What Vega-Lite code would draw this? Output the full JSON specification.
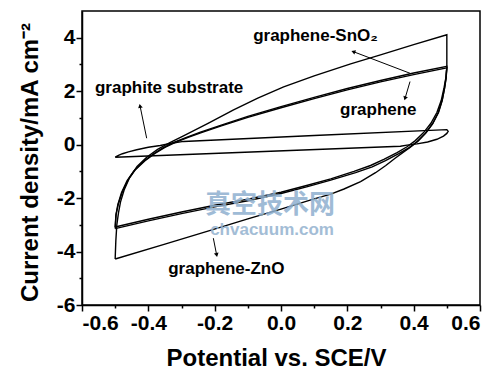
{
  "$schema": "https://vega.github.io/schema/vega-lite/v6.json",
  "width": 398,
  "height": 294,
  "autosize": "none",
  "padding": {"left": 82, "top": 11, "right": 20, "bottom": 70},
  "background": "white",
  "resolve": {"axis": {"x": "independent", "y": "independent"}},
  "config": {
    "view": {"stroke": "black", "strokeWidth": 1.5},
    "axis": {
      "domainColor": "black", "domainWidth": 1.5, "tickColor": "black", "tickWidth": 1.5,
      "labelColor": "black", "titleColor": "black", "labelFont": "Liberation Sans", "titleFont": "Liberation Sans",
      "labelFontWeight": "bold", "titleFontWeight": "bold", "grid": false
    }
  },
  "datasets": {
    "loops": [
      {"s":"graphene","i":0,"x":-0.5,"y":-3.08},{"s":"graphene","i":1,"x":-0.497,"y":-2.6},{"s":"graphene","i":2,"x":-0.49,"y":-2.2},{"s":"graphene","i":3,"x":-0.478,"y":-1.75},{"s":"graphene","i":4,"x":-0.46,"y":-1.3},{"s":"graphene","i":5,"x":-0.44,"y":-0.95},{"s":"graphene","i":6,"x":-0.41,"y":-0.6},{"s":"graphene","i":7,"x":-0.38,"y":-0.33},{"s":"graphene","i":8,"x":-0.35,"y":-0.1},{"s":"graphene","i":9,"x":-0.32,"y":0.08},{"s":"graphene","i":10,"x":-0.28,"y":0.27},{"s":"graphene","i":11,"x":-0.24,"y":0.45},{"s":"graphene","i":12,"x":-0.18,"y":0.7},{"s":"graphene","i":13,"x":-0.1,"y":1.02},{"s":"graphene","i":14,"x":0.0,"y":1.38},{"s":"graphene","i":15,"x":0.1,"y":1.72},{"s":"graphene","i":16,"x":0.2,"y":2.05},{"s":"graphene","i":17,"x":0.3,"y":2.35},{"s":"graphene","i":18,"x":0.4,"y":2.62},{"s":"graphene","i":19,"x":0.5,"y":2.87},{"s":"graphene","i":20,"x":0.497,"y":2.5},{"s":"graphene","i":21,"x":0.492,"y":2.15},{"s":"graphene","i":22,"x":0.483,"y":1.65},{"s":"graphene","i":23,"x":0.47,"y":1.2},{"s":"graphene","i":24,"x":0.452,"y":0.8},{"s":"graphene","i":25,"x":0.43,"y":0.45},{"s":"graphene","i":26,"x":0.405,"y":0.15},{"s":"graphene","i":27,"x":0.38,"y":-0.08},{"s":"graphene","i":28,"x":0.35,"y":-0.3},{"s":"graphene","i":29,"x":0.31,"y":-0.55},{"s":"graphene","i":30,"x":0.27,"y":-0.78},{"s":"graphene","i":31,"x":0.22,"y":-1.0},{"s":"graphene","i":32,"x":0.15,"y":-1.28},{"s":"graphene","i":33,"x":0.08,"y":-1.52},{"s":"graphene","i":34,"x":0.0,"y":-1.78},{"s":"graphene","i":35,"x":-0.1,"y":-2.04},{"s":"graphene","i":36,"x":-0.2,"y":-2.27},{"s":"graphene","i":37,"x":-0.3,"y":-2.52},{"s":"graphene","i":38,"x":-0.4,"y":-2.79},{"s":"graphene","i":39,"x":-0.5,"y":-3.08},
      {"s":"SnO2","i":0,"x":-0.5,"y":-3.14},{"s":"SnO2","i":1,"x":-0.498,"y":-2.65},{"s":"SnO2","i":2,"x":-0.492,"y":-2.25},{"s":"SnO2","i":3,"x":-0.481,"y":-1.8},{"s":"SnO2","i":4,"x":-0.464,"y":-1.35},{"s":"SnO2","i":5,"x":-0.444,"y":-0.99},{"s":"SnO2","i":6,"x":-0.415,"y":-0.63},{"s":"SnO2","i":7,"x":-0.385,"y":-0.35},{"s":"SnO2","i":8,"x":-0.355,"y":-0.11},{"s":"SnO2","i":9,"x":-0.325,"y":0.07},{"s":"SnO2","i":10,"x":-0.285,"y":0.27},{"s":"SnO2","i":11,"x":-0.245,"y":0.46},{"s":"SnO2","i":12,"x":-0.18,"y":0.73},{"s":"SnO2","i":13,"x":-0.1,"y":1.06},{"s":"SnO2","i":14,"x":0.0,"y":1.42},{"s":"SnO2","i":15,"x":0.1,"y":1.77},{"s":"SnO2","i":16,"x":0.2,"y":2.1},{"s":"SnO2","i":17,"x":0.3,"y":2.4},{"s":"SnO2","i":18,"x":0.4,"y":2.68},{"s":"SnO2","i":19,"x":0.5,"y":2.93},{"s":"SnO2","i":20,"x":0.498,"y":2.55},{"s":"SnO2","i":21,"x":0.494,"y":2.18},{"s":"SnO2","i":22,"x":0.486,"y":1.67},{"s":"SnO2","i":23,"x":0.474,"y":1.2},{"s":"SnO2","i":24,"x":0.457,"y":0.78},{"s":"SnO2","i":25,"x":0.435,"y":0.42},{"s":"SnO2","i":26,"x":0.41,"y":0.11},{"s":"SnO2","i":27,"x":0.385,"y":-0.12},{"s":"SnO2","i":28,"x":0.355,"y":-0.34},{"s":"SnO2","i":29,"x":0.315,"y":-0.6},{"s":"SnO2","i":30,"x":0.275,"y":-0.83},{"s":"SnO2","i":31,"x":0.225,"y":-1.05},{"s":"SnO2","i":32,"x":0.15,"y":-1.33},{"s":"SnO2","i":33,"x":0.08,"y":-1.57},{"s":"SnO2","i":34,"x":0.0,"y":-1.83},{"s":"SnO2","i":35,"x":-0.1,"y":-2.1},{"s":"SnO2","i":36,"x":-0.2,"y":-2.33},{"s":"SnO2","i":37,"x":-0.3,"y":-2.58},{"s":"SnO2","i":38,"x":-0.4,"y":-2.85},{"s":"SnO2","i":39,"x":-0.5,"y":-3.14},
      {"s":"ZnO","i":0,"x":-0.5,"y":-4.28},{"s":"ZnO","i":1,"x":-0.498,"y":-3.6},{"s":"ZnO","i":2,"x":-0.495,"y":-3.0},{"s":"ZnO","i":3,"x":-0.49,"y":-2.55},{"s":"ZnO","i":4,"x":-0.484,"y":-2.15},{"s":"ZnO","i":5,"x":-0.473,"y":-1.7},{"s":"ZnO","i":6,"x":-0.456,"y":-1.22},{"s":"ZnO","i":7,"x":-0.434,"y":-0.82},{"s":"ZnO","i":8,"x":-0.405,"y":-0.47},{"s":"ZnO","i":9,"x":-0.372,"y":-0.18},{"s":"ZnO","i":10,"x":-0.335,"y":0.08},{"s":"ZnO","i":11,"x":-0.294,"y":0.33},{"s":"ZnO","i":12,"x":-0.22,"y":0.8},{"s":"ZnO","i":13,"x":-0.143,"y":1.3},{"s":"ZnO","i":14,"x":-0.07,"y":1.74},{"s":"ZnO","i":15,"x":0.008,"y":2.16},{"s":"ZnO","i":16,"x":0.1,"y":2.57},{"s":"ZnO","i":17,"x":0.21,"y":3.02},{"s":"ZnO","i":18,"x":0.3,"y":3.36},{"s":"ZnO","i":19,"x":0.4,"y":3.74},{"s":"ZnO","i":20,"x":0.5,"y":4.11},{"s":"ZnO","i":21,"x":0.5,"y":3.4},{"s":"ZnO","i":22,"x":0.5,"y":2.9},{"s":"ZnO","i":23,"x":0.498,"y":2.5},{"s":"ZnO","i":24,"x":0.493,"y":2.1},{"s":"ZnO","i":25,"x":0.486,"y":1.65},{"s":"ZnO","i":26,"x":0.475,"y":1.2},{"s":"ZnO","i":27,"x":0.458,"y":0.8},{"s":"ZnO","i":28,"x":0.438,"y":0.45},{"s":"ZnO","i":29,"x":0.413,"y":0.13},{"s":"ZnO","i":30,"x":0.39,"y":-0.1},{"s":"ZnO","i":31,"x":0.367,"y":-0.3},{"s":"ZnO","i":32,"x":0.343,"y":-0.52},{"s":"ZnO","i":33,"x":0.316,"y":-0.78},{"s":"ZnO","i":34,"x":0.285,"y":-1.05},{"s":"ZnO","i":35,"x":0.24,"y":-1.38},{"s":"ZnO","i":36,"x":0.19,"y":-1.66},{"s":"ZnO","i":37,"x":0.15,"y":-1.85},{"s":"ZnO","i":38,"x":0.1,"y":-2.03},{"s":"ZnO","i":39,"x":0.0,"y":-2.41},{"s":"ZnO","i":40,"x":-0.1,"y":-2.78},{"s":"ZnO","i":41,"x":-0.213,"y":-3.21},{"s":"ZnO","i":42,"x":-0.35,"y":-3.72},{"s":"ZnO","i":43,"x":-0.5,"y":-4.28},
      {"s":"graphite","i":0,"x":-0.5,"y":-0.47},{"s":"graphite","i":1,"x":-0.49,"y":-0.4},{"s":"graphite","i":2,"x":-0.478,"y":-0.34},{"s":"graphite","i":3,"x":-0.46,"y":-0.27},{"s":"graphite","i":4,"x":-0.435,"y":-0.19},{"s":"graphite","i":5,"x":-0.4,"y":-0.1},{"s":"graphite","i":6,"x":-0.364,"y":-0.03},{"s":"graphite","i":7,"x":-0.33,"y":0.05},{"s":"graphite","i":8,"x":-0.294,"y":0.12},{"s":"graphite","i":9,"x":0.1,"y":0.34},{"s":"graphite","i":10,"x":0.5,"y":0.56},{"s":"graphite","i":11,"x":0.504,"y":0.5},{"s":"graphite","i":12,"x":0.5,"y":0.42},{"s":"graphite","i":13,"x":0.49,"y":0.32},{"s":"graphite","i":14,"x":0.47,"y":0.2},{"s":"graphite","i":15,"x":0.442,"y":0.1},{"s":"graphite","i":16,"x":0.41,"y":0.03},{"s":"graphite","i":17,"x":0.38,"y":-0.02},{"s":"graphite","i":18,"x":0.36,"y":-0.06},{"s":"graphite","i":19,"x":-0.5,"y":-0.47}
    ],
    "arrows": [
      {"name":"graphite","x":-0.405,"y":0.24,"x2":-0.425,"y2":1.45},
      {"name":"SnO2","x":0.389,"y":2.67,"x2":0.218,"y2":3.48},
      {"name":"graphene","x":0.389,"y":2.36,"x2":0.374,"y2":1.73},
      {"name":"ZnO","x":-0.204,"y":-3.5,"x2":-0.194,"y2":-4.13}
    ],
    "labels": [
      {"label":"graphite substrate","x":-0.561,"y":2.11},
      {"label":"graphene-SnO₂","x":-0.084,"y":4.05},
      {"label":"graphene","x":0.178,"y":1.3},
      {"label":"graphene-ZnO","x":-0.34,"y":-4.66}
    ]
  },
  "layer": [
    {
      "data": {"name": "loops"},
      "mark": {"type": "line", "color": "black", "strokeWidth": 1.4},
      "encoding": {
        "x": {"field": "x", "type": "quantitative",
          "scale": {"domain": [-0.6, 0.6], "nice": false, "zero": false},
          "axis": {
            "orient": "bottom",
            "values": [-0.6,-0.4,-0.2,0,0.2,0.4,0.6],
            "format": ".1f",
            "labelExpr": "replace(datum.label,'−','-')",
            "tickSize": 6,
            "labelFontSize": 21, "labelPadding": 1, "labelOverlap": false,
            "title": "Potential vs. SCE/V", "titleFontSize": 24,
            "titleX": 194, "titleY": 60, "titleBaseline": "alphabetic", "titleAlign": "center"
          }
        },
        "y": {"field": "y", "type": "quantitative",
          "scale": {"domain": [-6, 5], "nice": false, "zero": false},
          "axis": {
            "orient": "left",
            "values": [-6,-4,-2,0,2,4],
            "format": "d",
            "labelExpr": "replace(datum.label,'−','-')",
            "tickSize": 6,
            "labelFontSize": 21, "labelPadding": 1, "labelOverlap": false,
            "title": "Current density/mA cm⁻²", "titleFontSize": 24,
            "titleX": -45, "titleY": 151, "titleBaseline": "alphabetic", "titleAlign": "center", "titleAngle": -90
          }
        },
        "detail": {"field": "s"},
        "order": {"field": "i", "type": "quantitative"}
      }
    },
    {
      "data": {"name": "arrows"},
      "mark": {"type": "rule", "color": "black", "strokeWidth": 1},
      "encoding": {
        "x": {"field": "x", "type": "quantitative",
          "axis": {"orient": "bottom", "values": [-0.5,-0.3,-0.1,0.1,0.3,0.5], "tickSize": 3, "labels": false, "domain": false, "title": null}},
        "y": {"field": "y", "type": "quantitative",
          "axis": {"orient": "left", "values": [-5,-3,-1,1,3], "tickSize": 3, "labels": false, "domain": false, "title": null}},
        "x2": {"field": "x2"},
        "y2": {"field": "y2"}
      }
    },
    {
      "data": {"name": "arrows"},
      "transform": [{"filter": "datum.name == 'graphite'"}],
      "mark": {"type": "point", "shape": "triangle-up", "filled": true, "color": "black", "size": 22, "angle": 348, "opacity": 1},
      "encoding": {"x": {"field": "x2", "type": "quantitative", "axis": null}, "y": {"field": "y2", "type": "quantitative", "axis": null}}
    },
    {
      "data": {"name": "arrows"},
      "transform": [{"filter": "datum.name == 'SnO2'"}],
      "mark": {"type": "point", "shape": "triangle-up", "filled": true, "color": "black", "size": 22, "angle": 291, "opacity": 1},
      "encoding": {"x": {"field": "x2", "type": "quantitative", "axis": null}, "y": {"field": "y2", "type": "quantitative", "axis": null}}
    },
    {
      "data": {"name": "arrows"},
      "transform": [{"filter": "datum.name == 'graphene'"}],
      "mark": {"type": "point", "shape": "triangle-up", "filled": true, "color": "black", "size": 22, "angle": 197, "opacity": 1},
      "encoding": {"x": {"field": "x2", "type": "quantitative", "axis": null}, "y": {"field": "y2", "type": "quantitative", "axis": null}}
    },
    {
      "data": {"name": "arrows"},
      "transform": [{"filter": "datum.name == 'ZnO'"}],
      "mark": {"type": "point", "shape": "triangle-up", "filled": true, "color": "black", "size": 22, "angle": 168, "opacity": 1},
      "encoding": {"x": {"field": "x2", "type": "quantitative", "axis": null}, "y": {"field": "y2", "type": "quantitative", "axis": null}}
    },
    {
      "data": {"name": "labels"},
      "mark": {"type": "text", "align": "left", "baseline": "middle", "font": "Liberation Sans", "fontWeight": "bold", "fontSize": 17, "color": "black"},
      "encoding": {
        "x": {"field": "x", "type": "quantitative", "axis": null},
        "y": {"field": "y", "type": "quantitative", "axis": null},
        "text": {"field": "label"}
      }
    },
    {
      "data": {"values": [{"label": "真空技术网", "x": -0.033, "y": -2.26}]},
      "mark": {"type": "text", "align": "center", "baseline": "middle", "font": "Noto Sans CJK SC", "fontWeight": "bold", "fontSize": 26, "color": "#8fb0cf", "opacity": 0.85},
      "encoding": {
        "x": {"field": "x", "type": "quantitative", "axis": null},
        "y": {"field": "y", "type": "quantitative", "axis": null},
        "text": {"field": "label"}
      }
    },
    {
      "data": {"values": [{"label": "chvacuum.com", "x": -0.027, "y": -3.19}]},
      "mark": {"type": "text", "align": "center", "baseline": "middle", "font": "Liberation Sans", "fontWeight": "bold", "fontSize": 17, "color": "#93b2cf", "opacity": 0.85},
      "encoding": {
        "x": {"field": "x", "type": "quantitative", "axis": null},
        "y": {"field": "y", "type": "quantitative", "axis": null},
        "text": {"field": "label"}
      }
    }
  ]
}
